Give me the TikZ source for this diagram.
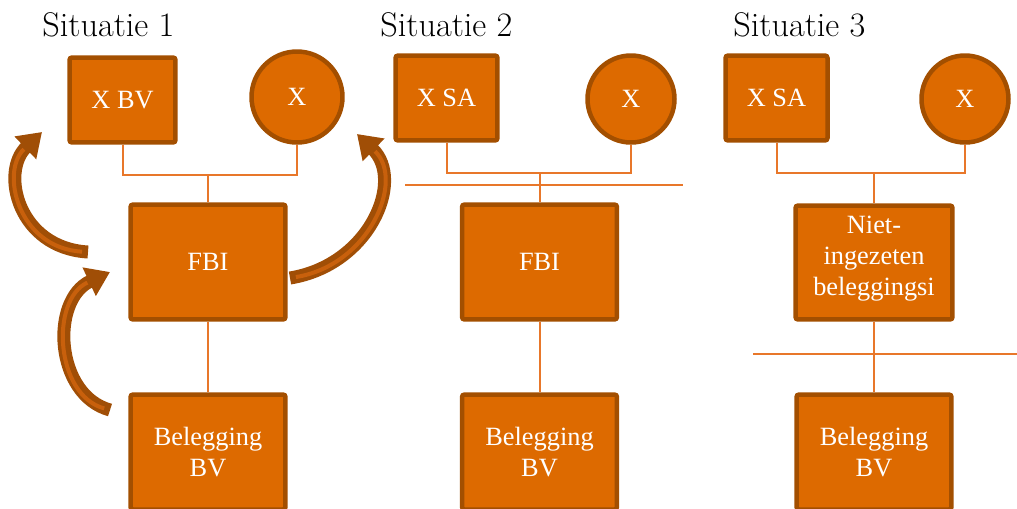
\documentclass[tikz,border=0pt]{standalone}
\usepackage{fontspec}
\newfontfamily\boxfont{Liberation Serif}
\usetikzlibrary{arrows.meta,backgrounds}
\definecolor{orfill}{HTML}{DD6A00}
\definecolor{orborder}{HTML}{A34F00}
\definecolor{orline}{HTML}{E8772A}
\definecolor{arrdark}{HTML}{A04E06}
\definecolor{arrlight}{HTML}{C8600C}
\begin{document}
\begin{tikzpicture}[x=0.02cm,y=-0.02cm,
  box/.style={draw=orborder, fill=orfill, line width=0.09cm, rounded corners=0.05cm,
    text=white, font=\boxfont\fontsize{15}{18}\selectfont, align=center, inner sep=0pt},
  circ/.style={circle, draw=orborder, fill=orfill, line width=0.09cm,
    text=white, font=\boxfont\fontsize{15}{18}\selectfont, inner sep=0pt},
  conn/.style={draw=orline, line width=0.04cm},
  title/.style={font=\fontsize{19.5}{22}\selectfont, anchor=base west, inner sep=0pt},
  bigarrow/.style={draw=arrdark, line width=0.26cm, -{Triangle[length=0.46cm,width=0.6cm]}},
  arrhi/.style={draw=arrlight, line width=0.08cm, shorten >=0.5cm, shorten <=0.12cm},
]
\useasboundingbox (0,0) rectangle (1017,508);
\clip (0,0) rectangle (1017,508);

% titles
\node[title] (t1) at (42,36) {Situatie 1};
\node[title] (t2) at (380,36) {Situatie 2};
\node[title] (t3) at (733,36) {Situatie 3};

% situatie 1
\node[box, minimum width=2.12cm, minimum height=1.7cm] (xbv1) at (122.5,100) {X BV};
\node[circ, minimum size=1.82cm] (x1) at (297,97) {X};
\node[box, minimum width=3.1cm, minimum height=2.3cm] (fbi1) at (208,262) {FBI};
\node[box, minimum width=3.1cm, minimum height=2.3cm] (bel1) at (208,452) {Belegging\\BV};
\coordinate (j1) at (208,175);

% situatie 2
\node[box, minimum width=2.04cm, minimum height=1.7cm] (xsa2) at (446.5,98) {X SA};
\node[circ, minimum size=1.74cm] (x2) at (631,99) {X};
\node[box, minimum width=3.1cm, minimum height=2.3cm] (fbi2) at (539.5,262) {FBI};
\node[box, minimum width=3.1cm, minimum height=2.3cm] (bel2) at (539.5,452) {Belegging\\BV};
\coordinate (j2) at (539.5,173);
\coordinate (h2a) at (405,185);
\coordinate (h2b) at (683,185);

% situatie 3
\node[box, minimum width=2.04cm, minimum height=1.7cm] (xsa3) at (776.5,98) {X SA};
\node[circ, minimum size=1.74cm] (x3) at (965,99) {X};
\node[box, minimum width=3.14cm, minimum height=2.28cm] (niet3) at (874,262.5) {};
\node[text=white, font=\boxfont\fontsize{15}{17.6}\selectfont, align=center, inner sep=0pt] (niettxt) at (874,259) {Niet-\\ingezeten\\beleggingsi};
\node[box, minimum width=3.1cm, minimum height=2.3cm] (bel3) at (874,452) {Belegging\\BV};
\coordinate (j3) at (874,173);
\coordinate (h3a) at (753,354);
\coordinate (h3b) at (1017,354);

\begin{pgfonlayer}{background}
  \draw[conn] (xbv1.south) |- (j1) -| (x1.south);
  \draw[conn] (j1) -- (fbi1.north);
  \draw[conn] (fbi1.south) -- (bel1.north);
  \draw[conn] (xsa2.south) |- (j2) -| (x2.south);
  \draw[conn] (j2) -- (fbi2.north);
  \draw[conn] (fbi2.south) -- (bel2.north);
  \draw[conn] (h2a) -- (h2b);
  \draw[conn] (xsa3.south) |- (j3) -| (x3.south);
  \draw[conn] (j3) -- (niet3.north);
  \draw[conn] (niet3.south) -- (bel3.north);
  \draw[conn] (h3a) -- (h3b);
\end{pgfonlayer}

% curved arrows
\coordinate (a1t) at (88,252);
\coordinate (a1h) at (42,132);
\coordinate (a2t) at (110,410);
\coordinate (a2h) at (110,272);
\coordinate (a3t) at (290,278);
\coordinate (a3h) at (357,134);
\draw[bigarrow] (a1t) .. controls (18,248) and (0,172) .. (a1h);
\draw[arrhi] (a1t) .. controls (18,248) and (0,172) .. (a1h);
\draw[bigarrow] (a2t) .. controls (55,395) and (50,300) .. (a2h);
\draw[arrhi] (a2t) .. controls (55,395) and (50,300) .. (a2h);
\draw[bigarrow] (a3t) .. controls (370,265) and (405,180) .. (a3h);
\draw[arrhi] (a3t) .. controls (370,265) and (405,180) .. (a3h);
\end{tikzpicture}
\end{document}
